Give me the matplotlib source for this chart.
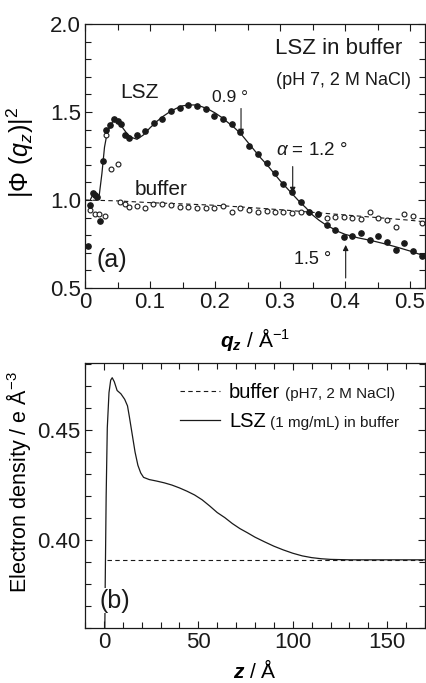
import numpy as np
import matplotlib
matplotlib.use("Agg")
import matplotlib.pyplot as plt
from matplotlib.ticker import MultipleLocator

plt.rcParams['font.family'] = ['Liberation Sans', 'DejaVu Sans']
plt.rcParams['mathtext.fontset'] = 'custom'
plt.rcParams['mathtext.rm'] = 'Liberation Sans'
plt.rcParams['mathtext.it'] = 'Liberation Sans:italic'
plt.rcParams['mathtext.bf'] = 'Liberation Sans:bold'
plt.rcParams['mathtext.bfit'] = 'Liberation Sans:bold:italic'

INK = "#1a1a1a"

# ---------------- (a) reflectivity data ----------------
lsz_q = [0.004, 0.008, 0.013, 0.016, 0.019, 0.023, 0.028, 0.033, 0.039, 0.045,
         0.050, 0.056, 0.061, 0.067, 0.080, 0.092, 0.106, 0.119, 0.132, 0.146,
         0.159, 0.173, 0.186, 0.199, 0.212, 0.226, 0.239, 0.252, 0.266, 0.280,
         0.292, 0.305, 0.319, 0.332, 0.345, 0.359, 0.372, 0.385, 0.399, 0.411,
         0.425, 0.438, 0.451, 0.465, 0.478, 0.491, 0.505, 0.518]
lsz_phi = [0.74, 0.97, 1.04, 1.03, 1.015, 0.88, 1.22, 1.40, 1.425, 1.46,
           1.45, 1.43, 1.37, 1.355, 1.37, 1.39, 1.435, 1.46, 1.505, 1.525,
           1.54, 1.535, 1.515, 1.478, 1.46, 1.43, 1.385, 1.307, 1.26, 1.208,
           1.152, 1.09, 1.047, 0.987, 0.93, 0.92, 0.858, 0.83, 0.788, 0.795,
           0.81, 0.773, 0.797, 0.763, 0.716, 0.754, 0.71, 0.684]

buf_q = [0.007, 0.015, 0.022, 0.030, 0.033, 0.040, 0.050, 0.054, 0.061, 0.067,
         0.080, 0.092, 0.105, 0.119, 0.132, 0.146, 0.159, 0.172, 0.186, 0.199,
         0.212, 0.226, 0.239, 0.252, 0.266, 0.280, 0.292, 0.305, 0.319, 0.332,
         0.345, 0.359, 0.372, 0.385, 0.399, 0.411, 0.425, 0.438, 0.451, 0.465,
         0.478, 0.491, 0.505, 0.518]
buf_phi = [0.943, 0.92, 0.92, 0.91, 1.37, 1.174, 1.203, 0.99, 0.977, 0.962,
           0.968, 0.956, 0.975, 0.975, 0.97, 0.962, 0.962, 0.956, 0.956, 0.956,
           0.966, 0.934, 0.953, 0.943, 0.930, 0.937, 0.934, 0.934, 0.928, 0.930,
           0.930, 0.919, 0.90, 0.905, 0.905, 0.90, 0.892, 0.93, 0.90, 0.886,
           0.848, 0.919, 0.91, 0.867]

fit_q = [0.008, 0.012, 0.018, 0.022, 0.026, 0.030, 0.034, 0.040, 0.046, 0.052,
         0.058, 0.065, 0.072, 0.080, 0.090, 0.100, 0.110, 0.120, 0.130, 0.140,
         0.150, 0.160, 0.170, 0.180, 0.190, 0.200, 0.210, 0.220, 0.230, 0.240,
         0.250, 0.260, 0.270, 0.280, 0.290, 0.300, 0.310, 0.320, 0.330, 0.340,
         0.350, 0.360, 0.370, 0.380, 0.390, 0.400, 0.420, 0.440, 0.460, 0.480,
         0.500, 0.520]
fit_phi = [1.00, 1.03, 1.02, 1.03, 1.15, 1.30, 1.38, 1.43, 1.465, 1.45,
           1.41, 1.375, 1.355, 1.345, 1.37, 1.41, 1.445, 1.475, 1.50, 1.52,
           1.535, 1.54, 1.54, 1.53, 1.515, 1.495, 1.47, 1.44, 1.41, 1.375,
           1.33, 1.285, 1.24, 1.20, 1.155, 1.11, 1.07, 1.03, 0.99, 0.955,
           0.915, 0.885, 0.86, 0.84, 0.82, 0.805, 0.785, 0.77, 0.752, 0.732,
           0.71, 0.685]

buf_fit_q = [0.0, 0.05, 0.10, 0.15, 0.20, 0.25, 0.30, 0.35, 0.40, 0.45, 0.50, 0.52]
buf_fit_phi = [1.0, 0.995, 0.985, 0.978, 0.97, 0.958, 0.945, 0.93, 0.915, 0.90, 0.885, 0.877]

# ---------------- (b) electron density profiles ----------------
z_lsz = [0.4, 0.5, 0.7, 1.2, 1.8, 2.7, 3.6, 4.4, 5.5, 7, 9, 11, 12.5, 13.5, 15,
         16.5, 18, 19.5, 21, 24, 28, 32, 36, 40, 44, 48, 52, 56, 60, 64, 68,
         72, 76, 80, 85, 90, 95, 100, 105, 110, 115, 120, 130, 170]
rho_lsz = [0.35, 0.36, 0.38, 0.42, 0.451, 0.467, 0.4727, 0.4738, 0.472, 0.468,
           0.4665, 0.464, 0.461, 0.456, 0.448, 0.44, 0.434, 0.4305, 0.4285,
           0.4275, 0.4268, 0.426, 0.425, 0.4237, 0.4222, 0.4205, 0.4183, 0.4155,
           0.4125, 0.4102, 0.4075, 0.4052, 0.4033, 0.4013, 0.3992, 0.3972,
           0.3955, 0.394, 0.3928, 0.392, 0.3915, 0.3912, 0.391, 0.391]
z_buf = [1.5, 170]
rho_buf = [0.391, 0.391]

fig = plt.figure(figsize=(4.27, 6.83), dpi=100)
W, H = 427, 683
ax1 = fig.add_axes([85 / W, 1 - 288 / H, 340 / W, 264 / H])
ax2 = fig.add_axes([85 / W, 1 - 628 / H, 340 / W, 265 / H])

# ---- panel (a) ----
ax1.plot(buf_fit_q, buf_fit_phi, ls=(0, (4, 3)), color=INK, lw=0.8)
ax1.plot(fit_q, fit_phi, '-', color=INK, lw=0.9)
ax1.plot(buf_q, buf_phi, 'o', mfc='white', mec=INK, mew=0.8, ms=3.5, ls='none')
ax1.plot(lsz_q, lsz_phi, 'o', color=INK, ms=3.8, ls='none')

ax1.set_xlim(0, 0.523)
ax1.set_ylim(0.5, 2.0)
ax1.xaxis.set_minor_locator(MultipleLocator(0.05))
ax1.yaxis.set_minor_locator(MultipleLocator(0.1))
ax1.set_xticks([0, 0.1, 0.2, 0.3, 0.4, 0.5])
ax1.set_xticklabels(["0", "0.1", "0.2", "0.3", "0.4", "0.5"])
ax1.set_yticks([0.5, 1.0, 1.5, 2.0])
ax1.set_yticklabels(["0.5", "1.0", "1.5", "2.0"])
ax1.set_xlabel(r"$\mathbfit{q_z}$ / Å$^{\mathregular{-1}}$", fontsize=15, labelpad=9)
ax1.set_ylabel(r"|$\Phi$ ($q_z$)|$^{\mathregular{2}}$", fontsize=18)
ax1.yaxis.set_label_coords(-0.145, 0.515)

ax1.text(0.39, 1.86, "LSZ in buffer", fontsize=16, ha='center', va='center', color=INK)
ax1.text(0.398, 1.68, "(pH 7, 2 M NaCl)", fontsize=13, ha='center', va='center', color=INK)
ax1.text(0.083, 1.61, "LSZ", fontsize=15, ha='center', va='center', color=INK)
ax1.text(0.117, 1.06, "buffer", fontsize=15, ha='center', va='center', color=INK)
ax1.text(0.041, 0.66, "(a)", fontsize=18, ha='center', va='center', color=INK)

arrow = dict(arrowstyle='-|>', color=INK, lw=0.8, mutation_scale=8, shrinkA=0, shrinkB=0)
ax1.annotate("", xy=(0.24, 1.37), xytext=(0.24, 1.52), arrowprops=arrow)
ax1.text(0.223, 1.585, "0.9 °", fontsize=12.5, ha='center', va='center', color=INK)
ax1.annotate("", xy=(0.3195, 1.04), xytext=(0.3195, 1.19), arrowprops=arrow)
ax1.text(0.349, 1.28, r"$\alpha$ = 1.2 °", fontsize=13.5, ha='center', va='center', color=INK)
ax1.annotate("", xy=(0.401, 0.745), xytext=(0.401, 0.557), arrowprops=arrow)
ax1.text(0.35, 0.66, "1.5 °", fontsize=13, ha='center', va='center', color=INK)

# ---- panel (b) ----
ax2.plot(z_buf, rho_buf, ls=(0, (4, 3)), color=INK, lw=0.8, label="buffer")
ax2.plot(z_lsz, rho_lsz, '-', color=INK, lw=0.9, label="LSZ")
ax2.set_xlim(-10, 170)
ax2.set_ylim(0.36, 0.4805)
ax2.set_xticks([0, 50, 100, 150])
ax2.set_xticklabels(["0", "50", "100", "150"])
ax2.xaxis.set_minor_locator(MultipleLocator(10))
ax2.set_yticks([0.40, 0.45])
ax2.set_yticklabels(["0.40", "0.45"])
ax2.yaxis.set_minor_locator(MultipleLocator(0.01))
ax2.set_xlabel(r"$\mathbfit{z}$ / Å", fontsize=15, labelpad=4)
ax2.set_ylabel(r"Electron density / e Å$^{\mathregular{-3}}$", fontsize=15.5)
ax2.yaxis.set_label_coords(-0.152, 0.55)
ax2.text(6, 0.3725, "(b)", fontsize=18, ha='center', va='center', color=INK,
         bbox=dict(facecolor='white', edgecolor='none', pad=0.5))

leg = ax2.legend(loc='upper left', bbox_to_anchor=(0.255, 0.955), frameon=False,
                 fontsize=14.5, handlelength=2.0, handletextpad=0.45,
                 labelspacing=0.5, borderaxespad=0)
t_buf, t_lsz = leg.get_texts()
ax2.annotate("(pH7, 2 M NaCl)", xy=(1, 0), xycoords=t_buf, xytext=(3, 1),
             textcoords='offset points', fontsize=11, va='bottom', ha='left',
             color=INK, zorder=10)
ax2.annotate("(1 mg/mL) in buffer", xy=(1, 0), xycoords=t_lsz, xytext=(3, 1),
             textcoords='offset points', fontsize=11, va='bottom', ha='left',
             color=INK, zorder=10)

for ax in (ax1, ax2):
    ax.tick_params(which='both', direction='in', top=True, right=True,
                   labelsize=16, colors=INK, width=0.8)
    ax.tick_params(which='major', length=5, pad=3)
    ax.tick_params(which='minor', length=4)
    for s in ax.spines.values():
        s.set_linewidth(0.9)
        s.set_color(INK)

fig.savefig("out.png", dpi=100)
